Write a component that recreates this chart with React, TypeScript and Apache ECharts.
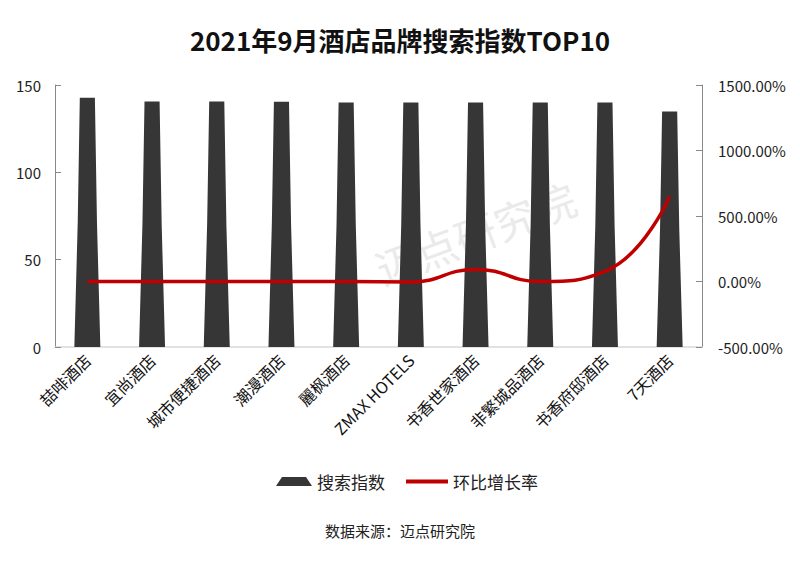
import React, { useEffect, useRef } from "react";
import * as echarts from "echarts";

const categories = ["喆啡酒店", "宜尚酒店", "城市便捷酒店", "潮漫酒店", "麗枫酒店", "ZMAX HOTELS", "书香世家酒店", "非繁城品酒店", "书香府邸酒店", "7天酒店"];
const searchIndex = [142.6, 140.5, 140.5, 140.4, 140.0, 140.0, 140.0, 140.0, 139.9, 134.8];
const growthRate = [0, 0, 0, 0, 0, -3, 92, 0, 78, 650];
const leftTicks = { min: 0, max: 150, interval: 50 };
const rightTicks = { min: -500, max: 1500, interval: 500 };

const FONT = "'Noto Sans CJK SC', 'Noto Sans', sans-serif";

export default function App() {
  const ref = useRef<HTMLDivElement>(null);
  useEffect(() => {
    const chart = echarts.init(ref.current!, null, { renderer: "svg" });
    chart.setOption({
      animation: false,
      backgroundColor: "#ffffff",
      textStyle: { fontFamily: FONT },
      title: {
        text: "2021年9月酒店品牌搜索指数TOP10",
        left: "center",
        top: 13,
        textStyle: { fontSize: 26, fontWeight: "bold", color: "#111", fontFamily: FONT },
      },
      legend: [
        {
          top: 460,
          left: 263,
          itemWidth: 36,
          itemHeight: 9,
          itemGap: 4,
          symbolKeepAspect: false,
          textStyle: { fontSize: 17, color: "#222", fontFamily: FONT },
          data: [{ name: "搜索指数", icon: "path://M6,0 L30,0 L36,9 L0,9 Z" }],
        },
        {
          top: 460,
          left: 393,
          itemWidth: 42,
          itemHeight: 4,
          icon: "rect",
          textStyle: { fontSize: 17, color: "#222", fontFamily: FONT },
          data: ["环比增长率"],
        },
      ],
      graphic: [
        {
          type: "text",
          left: "center",
          top: 515,
          style: { text: "数据来源：迈点研究院", fontSize: 15, fill: "#222", fontFamily: FONT },
        },
        {
          type: "text",
          x: 467,
          y: 224,
          rotation: 0.36,
          z: -10,
          style: {
            text: "迈点研究院",
            fontSize: 42,
            fill: "rgba(200,200,200,0.4)",
            fontFamily: FONT,
            align: "center",
            verticalAlign: "middle",
          },
        },
      ],
      grid: { left: 47, right: 90, top: 77, bottom: 206, containLabel: false },
      xAxis: {
        type: "category",
        data: categories,
        axisLine: { show: true, lineStyle: { color: "#d9d9d9", width: 1.5 } },
        axisTick: { show: false },
        axisLabel: { rotate: 45, fontSize: 16, color: "#111", interval: 0, margin: 10, fontFamily: FONT },
      },
      yAxis: [
        {
          type: "value",
          min: leftTicks.min,
          max: leftTicks.max,
          interval: leftTicks.interval,
          axisLine: { show: true, lineStyle: { color: "#888" } },
          axisTick: { show: true, inside: true, length: 6, lineStyle: { color: "#888" } },
          splitLine: { show: false },
          axisLabel: { fontSize: 15, color: "#222", margin: 14, fontFamily: FONT },
        },
        {
          type: "value",
          min: rightTicks.min,
          max: rightTicks.max,
          interval: rightTicks.interval,
          position: "right",
          axisLine: { show: true, lineStyle: { color: "#888" } },
          axisTick: { show: true, inside: true, length: 6, lineStyle: { color: "#888" } },
          splitLine: { show: false },
          axisLabel: {
            fontSize: 15,
            color: "#222",
            margin: 16,
            fontFamily: FONT,
            formatter: (v: number) => v.toFixed(2) + "%",
          },
        },
      ],
      series: [
        {
          name: "搜索指数",
          type: "pictorialBar",
          yAxisIndex: 0,
          data: searchIndex,
          symbol: "path://M4.2,0 L15.8,0 L17.4,50 L20,100 L0,100 L2.6,50 Z",
          symbolSize: [26, "100%"],
          symbolPosition: "start",
          itemStyle: { color: "#363636" },
          z: 2,
        },
        {
          name: "环比增长率",
          type: "line",
          yAxisIndex: 1,
          data: growthRate,
          smooth: 0.5,
          symbol: "none",
          lineStyle: { color: "#c00000", width: 3.5 },
          itemStyle: { color: "#c00000" },
          z: 3,
        },
      ],
    });
    return () => chart.dispose();
  }, []);
  return <div ref={ref} style={{ width: 784, height: 545 }} />;
}
